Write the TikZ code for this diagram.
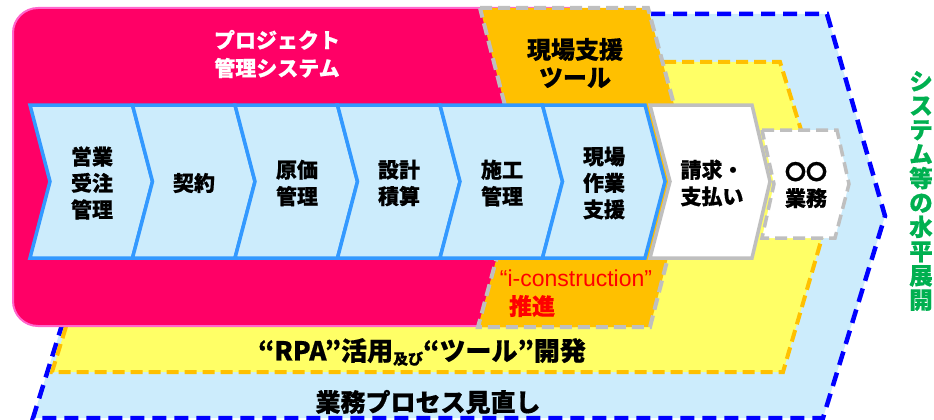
\documentclass[tikz,border=0pt]{standalone}
\usepackage{fontspec}
\setmainfont{Noto Sans CJK JP}[BoldFeatures={FakeBold=0.6}]
\newfontfamily\latinfont{Liberation Sans}
\definecolor{pinkfill}{HTML}{FF0066}
\definecolor{pinkline}{HTML}{FF66CC}
\definecolor{toolorange}{HTML}{FFC000}
\definecolor{greyline}{HTML}{BFBFBF}
\definecolor{paleblue}{HTML}{CCECFC}
\definecolor{chevline}{HTML}{3399FF}
\definecolor{paleyellow}{HTML}{FFFF66}
\definecolor{outerblue}{HTML}{0000FF}
\definecolor{greentext}{HTML}{00B050}

\begin{document}
\begin{tikzpicture}[x=1pt,y=-1pt,
   chev/.style={draw=chevline,fill=paleblue,line width=3.5pt},
   greychev/.style={draw=greyline,fill=white,line width=3.5pt},
   chevtext/.style={align=center,font=\bfseries\fontsize{21}{26.5}\selectfont},
   bigtext/.style={align=center,font=\bfseries\fontsize{24}{28}\selectfont}]
   \useasboundingbox (0,0) rectangle (934,420);

   \draw[outerblue,fill=paleblue,line width=4.5pt,dash pattern=on 14pt off 8pt]
      (35,14)--(827,14)--(885,216)--(823,418)--(33,418)--(96,216)--cycle;
   \draw[toolorange,fill=paleyellow,line width=4pt,dash pattern=on 12pt off 6pt]
      (52,62)--(780,62)--(828,217)--(783,372)--(52,372)--(100,217)--cycle;

   \draw[pinkline,fill=pinkfill,line width=2pt,rounded corners=25pt] (13,8) rectangle (600,326);
   \node[bigtext,white,font=\bfseries\fontsize{21}{28}\selectfont] (pms) at (277,54) {プロジェクト\\管理システム};

   \draw[greyline,fill=toolorange,line width=4pt,dash pattern=on 12pt off 6pt]
      (480,8)--(648,8)--(691,168)--(650,327)--(478,327)--(521,168)--cycle;
   \node[bigtext] (tool) at (575,63) {現場支援\\ツール};
   \node[red,font=\latinfont\fontsize{23}{28}\selectfont] (icon) at (576,278) {“i-construction”};
   \node[red,bigtext,font=\bfseries\fontsize{23}{28}\selectfont] (suishin) at (532,306) {推進};

   \draw[chev] (30,105)--(132.5,105)--(152.5,181.5)--(132.5,258)--(30,258)--(50,181.5)--cycle;
   \node[chevtext] (eigyo) at (92,183) {営業\\受注\\管理};
   \draw[chev] (132.5,105)--(235,105)--(255,181.5)--(235,258)--(132.5,258)--(152.5,181.5)--cycle;
   \node[chevtext] (keiyaku) at (194,183) {契約};
   \draw[chev] (235,105)--(337.5,105)--(357.5,181.5)--(337.5,258)--(235,258)--(255,181.5)--cycle;
   \node[chevtext] (genka) at (297,183) {原価\\管理};
   \draw[chev] (337.5,105)--(440,105)--(460,181.5)--(440,258)--(337.5,258)--(357.5,181.5)--cycle;
   \node[chevtext] (sekkei) at (399,183) {設計\\積算};
   \draw[chev] (440,105)--(542.5,105)--(562.5,181.5)--(542.5,258)--(440,258)--(460,181.5)--cycle;
   \node[chevtext] (seko) at (502,183) {施工\\管理};
   \draw[chev] (542.5,105)--(645,105)--(665,181.5)--(645,258)--(542.5,258)--(562.5,181.5)--cycle;
   \node[chevtext] (genba) at (604,183) {現場\\作業\\支援};

   \draw[greychev] (650,105)--(752,105)--(770,181.5)--(752,258)--(650,258)--(670,181.5)--cycle;
   \node[chevtext] (seikyu) at (712,183) {請求・\\支払い};
   \draw[greychev,dash pattern=on 12pt off 6pt] (762,130)--(837,130)--(849,184)--(835,238)--(762,238)--(774,184)--cycle;
   \node[chevtext] (other) at (806,185) {〇〇\\業務};

   \node[font=\bfseries\fontsize{26}{28}\selectfont] (rpa) at (422,352)
      {“RPA”活用{\fontsize{15}{15}\selectfont\raisebox{-4pt}{及び}}“ツール”開発};
   \node[font=\bfseries\fontsize{25}{28}\selectfont] (process) at (428,402) {業務プロセス見直し};

   \node[greentext,align=center,font=\bfseries\fontsize{23.5}{24.3}\selectfont] (tenkai) at (921,191)
      {シ\\ス\\テ\\ム\\等\\の\\水\\平\\展\\開};
\end{tikzpicture}
\end{document}
